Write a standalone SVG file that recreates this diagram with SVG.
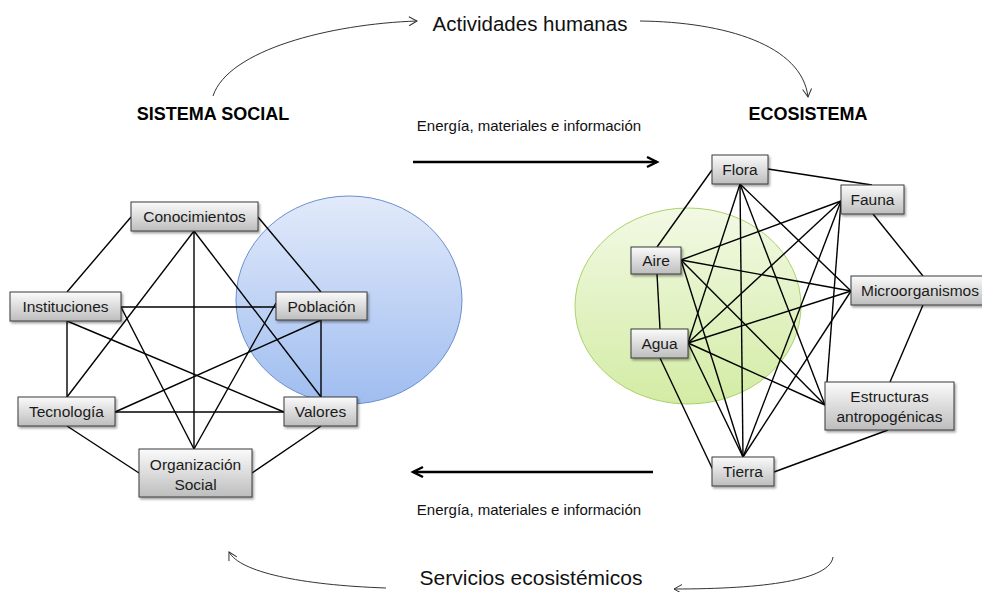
<svg xmlns="http://www.w3.org/2000/svg" width="982" height="592" viewBox="0 0 982 592">
<defs>
<linearGradient id="boxg" x1="0" y1="0" x2="0" y2="1">
<stop offset="0" stop-color="#fbfbfb"/><stop offset="1" stop-color="#bdbdbd"/>
</linearGradient>
<linearGradient id="blueg" x1="0" y1="0" x2="0" y2="1">
<stop offset="0" stop-color="#e2eafa"/><stop offset="1" stop-color="#9fbdf0"/>
</linearGradient>
<linearGradient id="greeng" x1="0" y1="0" x2="0" y2="1">
<stop offset="0" stop-color="#f2f9e4"/><stop offset="1" stop-color="#d3eca4"/>
</linearGradient>
<filter id="sh" x="-10%" y="-10%" width="130%" height="140%">
<feDropShadow dx="1.5" dy="2" stdDeviation="1.2" flood-color="#000" flood-opacity="0.35"/>
</filter>
<marker id="thin" markerWidth="12" markerHeight="12" refX="9" refY="5" orient="auto" markerUnits="userSpaceOnUse">
<path d="M1,0.5 L9,5 L1,9.5" fill="none" stroke="#333" stroke-width="1"/>
</marker>
<marker id="thick" markerWidth="14" markerHeight="14" refX="11" refY="6" orient="auto" markerUnits="userSpaceOnUse">
<path d="M1,1 L11,6 L1,11" fill="none" stroke="#000" stroke-width="2.4"/>
</marker>
</defs>
<style>
.box{fill:url(#boxg);stroke:#3a3a3a;stroke-width:1;filter:url(#sh)}
.lbl{font-family:"Liberation Sans",Arial,sans-serif;font-size:15.5px;fill:#1a1a1a;text-anchor:middle}
.edge{stroke:#000;stroke-width:1.4;fill:none}
.arc{stroke:#333;stroke-width:1;fill:none;marker-end:url(#thin)}
.flow{stroke:#000;stroke-width:2.6;fill:none;marker-end:url(#thick)}
.title{font-family:"Liberation Sans",Arial,sans-serif;font-weight:bold;font-size:18px;fill:#000;text-anchor:middle}
.cap{font-family:"Liberation Sans",Arial,sans-serif;fill:#111;text-anchor:middle}
</style>

<g id="backgrounds">
<ellipse cx="349" cy="300" rx="113" ry="104" fill="url(#blueg)" stroke="#6b8fcf" stroke-width="1"/>
<ellipse cx="688" cy="306" rx="113" ry="98" fill="url(#greeng)" stroke="#a9d26a" stroke-width="1"/>
</g>

<g id="labels">
<text class="cap" x="530" y="31" font-size="20.5px">Actividades humanas</text>
<text class="title" x="213" y="120">SISTEMA SOCIAL</text>
<text class="title" x="808" y="120">ECOSISTEMA</text>
<text class="cap" x="529" y="131" font-size="15px">Energía, materiales e información</text>
<text class="cap" x="529" y="515" font-size="15px">Energía, materiales e información</text>
<text class="cap" x="531" y="585" font-size="21px">Servicios ecosistémicos</text>
</g>

<g id="connectors">
<path class="arc" d="M213,96 C228,50 330,24 417,21"/>
<path class="arc" d="M640,21 C725,22 802,45 808,97"/>
<path class="arc" d="M833,557 C830,580 765,589 674,589"/>
<path class="arc" d="M386,588 C300,585 240,572 229,552"/>
<path class="flow" d="M413,162 L657,162"/>
<path class="flow" d="M653,472 L413,472"/>

<path class="edge" d="M131,217 L67,292"/>
<path class="edge" d="M258,217 L321,292"/>
<path class="edge" d="M194,231 L67,397"/>
<path class="edge" d="M194,231 L194,449"/>
<path class="edge" d="M194,231 L321,397"/>
<path class="edge" d="M121,307 L276,307"/>
<path class="edge" d="M121,307 L194,449"/>
<path class="edge" d="M67,321 L67,397"/>
<path class="edge" d="M67,321 L284,412"/>
<path class="edge" d="M276,303 L194,449"/>
<path class="edge" d="M321,320 L115,412"/>
<path class="edge" d="M321,320 L321,397"/>
<path class="edge" d="M115,412 L284,412"/>
<path class="edge" d="M67,426 L139,473"/>
<path class="edge" d="M321,426 L252,473"/>

<path class="edge" d="M712,170 L657,247"/>
<path class="edge" d="M768,169 L872,185"/>
<path class="edge" d="M740,184 L688,343"/>
<path class="edge" d="M740,184 L743,457"/>
<path class="edge" d="M740,184 L825,405"/>
<path class="edge" d="M740,184 L851,291"/>
<path class="edge" d="M657,274 L660,329"/>
<path class="edge" d="M681,260 L841,201"/>
<path class="edge" d="M681,260 L851,291"/>
<path class="edge" d="M681,260 L825,405"/>
<path class="edge" d="M681,260 L743,457"/>
<path class="edge" d="M688,343 L841,201"/>
<path class="edge" d="M688,343 L851,291"/>
<path class="edge" d="M688,343 L825,405"/>
<path class="edge" d="M688,343 L743,457"/>
<path class="edge" d="M660,358 L713,470"/>
<path class="edge" d="M873,214 L923,276"/>
<path class="edge" d="M841,201 L827,382"/>
<path class="edge" d="M841,201 L743,457"/>
<path class="edge" d="M923,305 L890,382"/>
<path class="edge" d="M851,291 L743,457"/>
<path class="edge" d="M888,430 L774,472"/>
</g>

<g id="conocimientos"><rect class="box" x="131" y="202" width="127" height="29"/><text class="lbl" x="194.5" y="222">Conocimientos</text></g>
<g id="instituciones"><rect class="box" x="10" y="292" width="111" height="29"/><text class="lbl" x="65.5" y="312">Instituciones</text></g>
<g id="poblacion"><rect class="box" x="276" y="292" width="91" height="28"/><text class="lbl" x="321.5" y="311.5">Población</text></g>
<g id="tecnologia"><rect class="box" x="18" y="397" width="97" height="29"/><text class="lbl" x="66.5" y="417">Tecnología</text></g>
<g id="valores"><rect class="box" x="284" y="397" width="73" height="29"/><text class="lbl" x="320.5" y="417">Valores</text></g>
<g id="organizacion"><rect class="box" x="139" y="449" width="113" height="48"/><text class="lbl" x="195.5" y="470">Organización</text><text class="lbl" x="195.5" y="490">Social</text></g>

<g id="flora"><rect class="box" x="712" y="155" width="56" height="29"/><text class="lbl" x="740" y="175">Flora</text></g>
<g id="fauna"><rect class="box" x="841" y="185" width="63" height="29"/><text class="lbl" x="872.5" y="205">Fauna</text></g>
<g id="aire"><rect class="box" x="631" y="247" width="50" height="27"/><text class="lbl" x="656" y="266">Aire</text></g>
<g id="microorganismos"><rect class="box" x="851" y="276" width="134" height="29"/><text class="lbl" x="920" y="296">Microorganismos</text></g>
<g id="agua"><rect class="box" x="631" y="329" width="57" height="29"/><text class="lbl" x="659.5" y="349">Agua</text></g>
<g id="estructuras"><rect class="box" x="825" y="382" width="129" height="48"/><text class="lbl" x="889.5" y="402">Estructuras</text><text class="lbl" x="889.5" y="422">antropogénicas</text></g>
<g id="tierra"><rect class="box" x="712" y="457" width="62" height="29"/><text class="lbl" x="743" y="477">Tierra</text></g>
</svg>
